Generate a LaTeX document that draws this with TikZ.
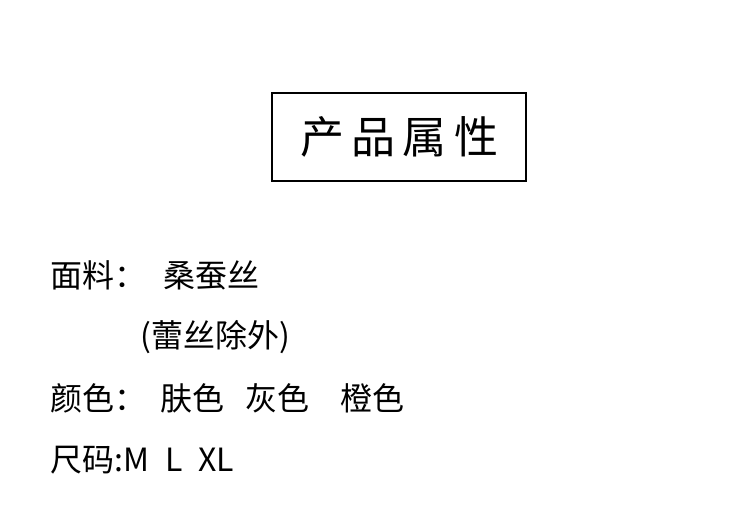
\documentclass[tikz,border=0pt]{standalone}
\usepackage{fontspec}
\newfontfamily\cjk{Noto Sans CJK SC}
\tikzset{
  line/.style={anchor=west,inner sep=0pt,font=\cjk\fontsize{32}{36}\selectfont},
  titlebox/.style={draw,line width=1.2pt,minimum width=254pt,minimum height=88pt,
    font=\cjk\fontsize{44}{50}\selectfont}
}
\begin{document}
\begin{tikzpicture}[x=1pt,y=-1pt]
  \useasboundingbox[fill=white] (0,0) rectangle (750,516);

  %% title
  \node[titlebox] (title) at (399,137) {产\,品\,属\,性};

  %% properties
  \node[line] (fabric) at (50,275) {面料：};
  \node[line] (silk) at (163,275) {桑蚕丝};
  \node[line] (lace) at (140,337) {(蕾丝除外)};
  \node[line] (colour) at (50,398) {颜色：};
  \node[line] (skin) at (160,398) {肤色};
  \node[line] (grey) at (245,398) {灰色};
  \node[line] (orange) at (340,398) {橙色};
  \node[line] (size) at (50,460) {尺码:M\enspace L\enspace XL};
\end{tikzpicture}
\end{document}
